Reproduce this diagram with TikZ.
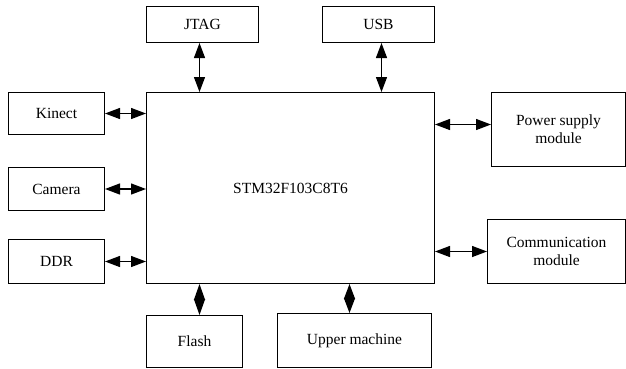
\documentclass[tikz,border=0pt]{standalone}
\usepackage{fontspec}
\setmainfont{Liberation Serif}
\usetikzlibrary{arrows.meta}
\begin{document}
\begin{tikzpicture}[x=1pt,y=-1pt,
  box/.style={draw,line width=1pt,anchor=north west,inner sep=0pt,align=center,font=\fontsize{15.5}{18}\selectfont},
  biarrow/.style={line width=1.3pt,{Triangle[length=15pt,width=11pt]}-{Triangle[length=15pt,width=11pt]}},
  diam/.style={line width=1.3pt,{Triangle[length=#1,width=11pt]}-{Triangle[length=#1,width=11pt]}}]
\useasboundingbox (0,0) rectangle (626,368);
\node[box,minimum width=288pt,minimum height=191pt] (main) at (146,92) {STM32F103C8T6};
\node[box,minimum width=112pt,minimum height=36pt] (jtag) at (146,6) {JTAG};
\node[box,minimum width=112pt,minimum height=36pt] (usb) at (322,6) {USB};
\node[box,minimum width=96pt,minimum height=42pt] (kinect) at (8,92) {Kinect};
\node[box,minimum width=96pt,minimum height=43pt] (camera) at (8,167) {Camera};
\node[box,minimum width=96pt,minimum height=44pt] (ddr) at (8,239) {DDR};
\node[box,minimum width=134pt,minimum height=74pt] (power) at (491,92) {Power supply\\module};
\node[box,minimum width=138pt,minimum height=64pt] (comm) at (487,219) {Communication\\module};
\node[box,minimum width=96pt,minimum height=52pt] (flash) at (146,315) {Flash};
\node[box,minimum width=154pt,minimum height=54pt] (upper) at (277,313) {Upper machine};
\draw[biarrow] ([xshift=-3pt]jtag.south) -- ([xshift=-3pt]jtag.south |- main.north);
\draw[biarrow] ([xshift=3pt]usb.south) -- ([xshift=3pt]usb.south |- main.north);
\draw[biarrow] (kinect.east) -- (kinect.east -| main.west);
\draw[biarrow] (camera.east) -- (camera.east -| main.west);
\draw[biarrow] (ddr.east) -- (ddr.east -| main.west);
\draw[biarrow] ([yshift=5pt]power.west) -- ([yshift=5pt]power.west -| main.east);
\draw[biarrow] (comm.west) -- (comm.west -| main.east);
\draw[diam=16pt] ([xshift=5pt]flash.north) -- ([xshift=5pt]flash.north |- main.south);
\draw[diam=15pt] ([xshift=-5pt]upper.north) -- ([xshift=-5pt]upper.north |- main.south);
\end{tikzpicture}
\end{document}
